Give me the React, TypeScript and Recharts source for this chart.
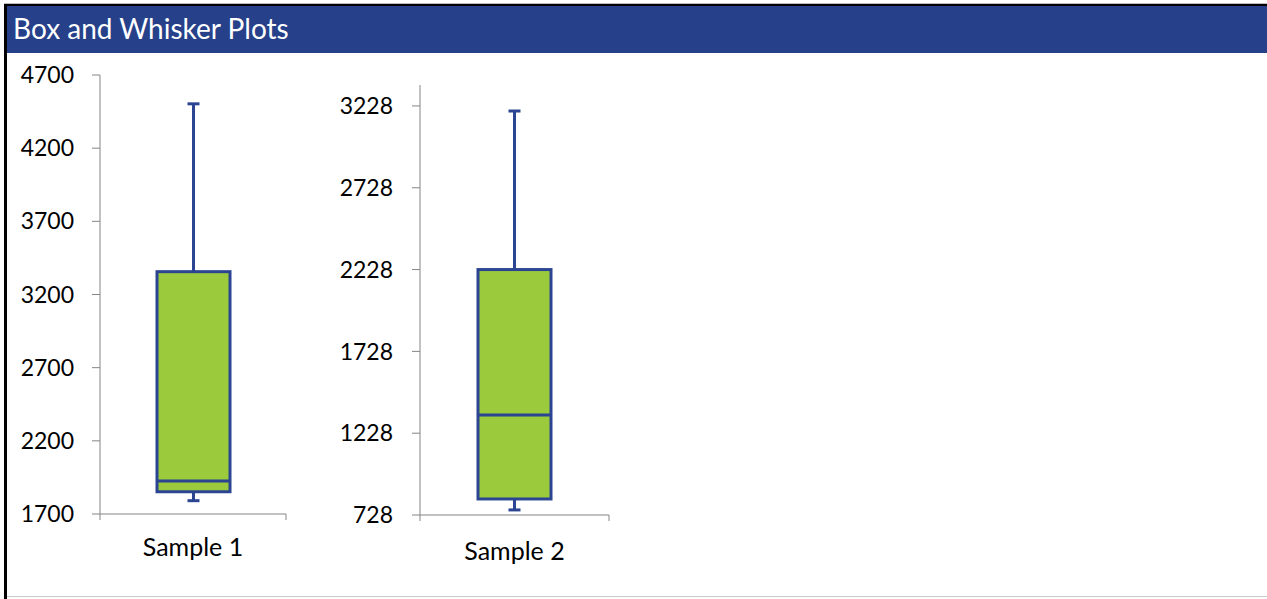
import { BarChart, Bar, XAxis, YAxis } from "recharts";

const categories = ["Sample 1", "Sample 2"];
const minimums = [1791, 759];
const lowerQuartiles = [1852, 826];
const medians = [1925, 1339];
const upperQuartiles = [3356, 2228];
const maximums = [4503, 3197];
const axisDomains = [
  [1700, 4700],
  [728, 3356],
];
const axisTicks = [
  [1700, 2200, 2700, 3200, 3700, 4200, 4700],
  [728, 1228, 1728, 2228, 2728, 3228],
];

const FONT = "Lato, 'Open Sans', sans-serif";
const HEADER = "#26418A";
const LINE = "#2B4593";
const FILL = "#9BCA3C";
const AXIS = "#858585";

// per-chart placement on the page
const layouts = [
  { left: 0, width: 330, margin: { top: 75, right: 44, bottom: 45, left: 0 }, yWidth: 100, labelGap: 42 },
  { left: 330, width: 320, margin: { top: 85, right: 41, bottom: 44, left: 0 }, yWidth: 90, labelGap: 45 },
];

function BoxShape(props: any) {
  const { x, y, width, height, payload } = props;
  const top = Math.min(y, y + height);
  const bottom = Math.max(y, y + height);
  const { min, q1, median, q3, max } = payload;
  const py = (v: number) => bottom - ((v - min) / (max - min)) * (bottom - top);
  const cx = x + width / 2;
  const cap = 6;
  return (
    <g stroke={LINE} strokeWidth={3}>
      <line x1={cx} x2={cx} y1={py(max)} y2={py(q3)} />
      <line x1={cx} x2={cx} y1={py(q1)} y2={py(min)} />
      <line x1={cx - cap} x2={cx + cap} y1={py(max)} y2={py(max)} />
      <line x1={cx - cap} x2={cx + cap} y1={py(min)} y2={py(min)} />
      <rect x={x} y={py(q3)} width={width} height={py(q1) - py(q3)} fill={FILL} />
      <line x1={x} x2={x + width} y1={py(median)} y2={py(median)} />
    </g>
  );
}

function CategoryTick(props: any) {
  const { x, y, payload, labelGap } = props;
  const half = payload.offset ?? 0;
  return (
    <g>
      <line x1={x - half} x2={x - half} y1={y} y2={y + 6} stroke={AXIS} />
      <line x1={x + half} x2={x + half} y1={y} y2={y + 6} stroke={AXIS} />
      <text x={x} y={y + labelGap} textAnchor="middle" fill="#000" fontSize={25} fontFamily={FONT}>
        {payload.value}
      </text>
    </g>
  );
}

function SampleBox({ index }: { index: number }) {
  const lay = layouts[index];
  const data = [
    {
      name: categories[index],
      min: minimums[index],
      q1: lowerQuartiles[index],
      median: medians[index],
      q3: upperQuartiles[index],
      max: maximums[index],
    },
  ];
  return (
    <div style={{ position: "absolute", left: lay.left, top: 0 }}>
      <BarChart width={lay.width} height={599} data={data} margin={lay.margin} barSize={73}>
        <XAxis
          dataKey="name"
          height={40}
          stroke={AXIS}
          tickLine={false}
          tickSize={0}
          tickMargin={0}
          tick={(p: any) => <CategoryTick {...p} labelGap={lay.labelGap} />}
        />
        <YAxis
          type="number"
          domain={axisDomains[index]}
          ticks={axisTicks[index]}
          interval={0}
          width={lay.yWidth}
          stroke={AXIS}
          tickSize={8}
          tickMargin={index === 0 ? 18 : 19}
          tick={{ fill: "#000", fontSize: 23, fontFamily: FONT }}
        />
        <Bar
          dataKey={(d: any) => [d.min, d.max]}
          shape={BoxShape}
          isAnimationActive={false}
        />
      </BarChart>
    </div>
  );
}

export default function App() {
  return (
    <div
      style={{
        position: "fixed",
        left: 0,
        top: 0,
        width: 1267,
        height: 599,
        background: "#fff",
        overflow: "hidden",
        fontFamily: FONT,
      }}
    >
      <div
        style={{
          position: "absolute",
          left: 4,
          top: 3,
          width: 1270,
          height: 594,
          borderTop: "1px solid #bdbdbd",
          borderBottom: "1px solid #c8c8c8",
          boxSizing: "border-box",
        }}
      />
      <div
        style={{
          position: "absolute",
          left: 4,
          top: 4,
          width: 1270,
          height: 595,
          borderLeft: "3px solid #000",
          borderTop: "2px solid #000",
          boxSizing: "border-box",
        }}
      />
      <div
        style={{
          position: "absolute",
          left: 7,
          top: 6,
          width: 1260,
          height: 47,
          background: HEADER,
        }}
      />
      <div
        style={{
          position: "absolute",
          left: 13,
          top: 11,
          color: "#fff",
          fontSize: 28,
          lineHeight: "34px",
          whiteSpace: "nowrap",
        }}
      >
        Box and Whisker Plots
      </div>
      <SampleBox index={0} />
      <SampleBox index={1} />
    </div>
  );
}
